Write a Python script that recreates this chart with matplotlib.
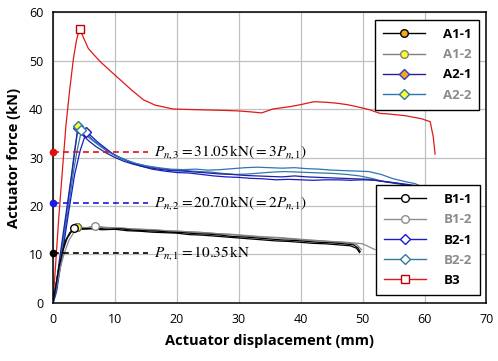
import matplotlib
matplotlib.use('Agg')
import matplotlib.pyplot as plt
from matplotlib.lines import Line2D

plt.rcParams['font.family'] = ['Open Sans', 'DejaVu Sans']
plt.rcParams['mathtext.fontset'] = 'stix'

# --- data ---
x_a11 = [0, 0.5, 1.0, 1.6, 2.2, 2.9, 3.8, 5, 7, 9, 11, 13, 15, 17, 19, 21, 23, 25, 27, 29, 31,
         33, 35, 37, 39, 41, 43, 45, 47, 48.5, 49.2, 49.6]
y_a11 = [0, 3.8, 7.6, 10.8, 13.2, 14.6, 15.6, 15.3, 15.4, 15.2, 15.3, 15.0, 14.9, 14.8, 14.6, 14.5,
         14.3, 14.2, 14.0, 13.7, 13.6, 13.4, 13.2, 13.0, 12.9, 12.7, 12.5, 12.4, 12.2, 12.0, 11.4, 10.6]

x_a12 = [0, 0.5, 1.1, 1.7, 2.4, 3.1, 3.9, 5.5, 7.5, 9.5, 11.5, 13.5, 15.5, 17.5, 19.5, 21.5, 23.5,
         25.5, 27.5, 29.5, 31.5, 33.5, 35.5, 37.5, 39.5, 41.5, 43.5, 45.5, 47.5, 49.0, 49.8]
y_a12 = [0, 3.6, 7.8, 11.2, 13.6, 15.0, 15.7, 15.5, 15.6, 15.4, 15.4, 15.2, 15.1, 14.9, 14.8, 14.7,
         14.6, 14.4, 14.2, 14.0, 13.8, 13.6, 13.5, 13.3, 13.1, 12.9, 12.8, 12.6, 12.4, 12.1, 11.0]

x_b11 = [0, 0.4, 0.9, 1.4, 2.0, 2.7, 3.4, 4.5, 6, 8, 10, 12, 14, 16, 18, 20, 22, 24, 26, 28, 30,
         32, 34, 36, 38, 40, 42, 44, 46, 48, 49.0, 49.5]
y_b11 = [0, 3.2, 7.0, 10.2, 12.8, 14.5, 15.4, 15.2, 15.3, 15.1, 15.2, 14.9, 14.8, 14.6, 14.5, 14.4,
         14.1, 14.0, 13.8, 13.6, 13.4, 13.2, 13.0, 12.8, 12.7, 12.5, 12.3, 12.2, 12.0, 11.8, 11.3, 10.4]

x_b12 = [0, 0.5, 1.1, 1.8, 2.6, 3.5, 4.5, 5.6, 6.8, 8.5, 10.5, 12.5, 14.5, 16.5, 18.5, 20.5, 22.5,
         24.5, 26.5, 28.5, 30.5, 32.5, 34.5, 36.5, 38.5, 40.5, 42.5, 44.5, 46.5, 48.5, 50.0, 51.0, 52.0]
y_b12 = [0, 3.0, 6.8, 10.2, 13.0, 14.8, 15.4, 15.6, 15.9, 15.6, 15.5, 15.3, 15.2, 15.1, 14.9, 14.8,
         14.6, 14.5, 14.3, 14.2, 14.0, 13.8, 13.6, 13.5, 13.3, 13.1, 12.9, 12.7, 12.6, 12.4, 12.2, 11.6, 11.0]

x_a21 = [0, 0.3, 1.0, 2.0, 3.0, 3.5, 4.0, 4.8, 5.8, 7.0, 8.5, 10, 11.5, 13, 15, 17, 19, 21, 23, 25,
         27, 29, 31, 33, 35, 37, 39, 41, 43, 45, 47, 49, 51, 53, 55, 57, 58.5, 59.5, 60.0]
y_a21 = [0, 1.5, 8.5, 17.5, 26.5, 31.5, 36.0, 34.6, 33.4, 32.2, 31.0, 30.0, 29.2, 28.6, 28.0, 27.6, 27.3,
         27.2, 27.0, 26.8, 26.6, 26.5, 26.3, 26.2, 26.1, 26.0, 26.2, 26.0, 25.9, 25.8, 25.7, 25.6,
         25.5, 25.1, 24.8, 24.5, 24.2, 23.7, 23.3]

x_a22 = [0, 0.4, 1.1, 2.1, 3.1, 3.6, 4.1, 4.9, 5.9, 7.1, 8.6, 10, 11.5, 13, 15, 17, 19, 21, 23, 25,
         27, 29, 31, 33, 35, 37, 39, 41, 43, 45, 47, 49, 51, 53, 55, 57, 58.5, 59.5, 60.2]
y_a22 = [0, 1.5, 8.5, 17.5, 27, 32, 36.4, 35.2, 34.0, 32.8, 31.4, 30.4, 29.6, 28.9, 28.3, 27.9,
         27.6, 27.5, 27.6, 27.4, 27.5, 27.7, 27.9, 28.0, 27.9, 27.8, 27.9, 27.7, 27.6, 27.4, 27.3,
         27.2, 27.1, 26.5, 25.6, 25.0, 24.6, 24.0, 23.4]

x_b21 = [0, 0.6, 1.5, 2.5, 3.5, 4.4, 5.4, 6.2, 7.2, 8.4, 9.6, 11, 12.5, 14, 16, 18, 20, 22, 24, 26,
         28, 30, 32, 34, 36, 38, 40, 42, 44, 46, 48, 50, 52, 54, 56, 58, 59.2, 60.0]
y_b21 = [0, 2.5, 10, 18.5, 26.5, 31.5, 35.3, 34.4, 33.2, 32.0, 30.8, 29.8, 29.0, 28.3, 27.6, 27.2,
         26.9, 26.8, 26.5, 26.2, 26.0, 25.9, 25.7, 25.6, 25.4, 25.5, 25.4, 25.3, 25.4, 25.4, 25.3,
         25.4, 25.3, 25.0, 24.6, 24.0, 23.6, 23.1]

x_b22 = [0, 0.5, 1.3, 2.3, 3.3, 3.9, 4.6, 5.5, 6.5, 7.7, 9.0, 10.5, 12, 13.5, 15.5, 17.5, 19.5, 21.5,
         23.5, 25.5, 27.5, 29.5, 31.5, 33.5, 35.5, 37.5, 39.5, 41.5, 43.5, 45.5, 47.5, 49.5, 51.5,
         53.5, 55.5, 57.5, 59.0, 60.0]
y_b22 = [0, 2.5, 9.5, 18, 27, 31.5, 35.6, 34.8, 33.6, 32.4, 31.2, 30.2, 29.4, 28.7, 28.1, 27.7,
         27.4, 27.3, 27.1, 27.0, 26.7, 26.5, 26.6, 26.8, 27.0, 27.1, 27.0, 26.9, 26.8, 26.7, 26.5,
         26.2, 25.7, 25.0, 24.6, 24.3, 23.8, 23.3]

x_b3 = [0, 0.4, 0.9, 1.5, 2.1, 2.7, 3.3, 3.8, 4.3, 5.0, 5.7, 6.6, 7.6, 8.8, 10.0, 11.4, 12.7, 14.6,
        16.5, 19.4, 22, 25, 28, 30, 32, 33.7, 35.5, 38.3, 40, 42.1, 44, 45.8, 47.5, 49, 51, 52.8, 54,
        55.5, 57, 58.2, 59.5, 60.4, 60.9, 61.4, 61.7]
y_b3 = [0, 7.5, 17, 27, 36.7, 44, 50.4, 54.2, 56.6, 54.5, 52.5, 51.2, 49.8, 48.4, 47.0, 45.4, 43.9,
        41.9, 40.8, 40.0, 39.9, 39.8, 39.7, 39.6, 39.4, 39.2, 40.0, 40.5, 40.9, 41.5, 41.4, 41.2,
        40.9, 40.5, 39.9, 39.1, 39.0, 38.8, 38.6, 38.3, 38.0, 37.6, 37.4, 34.3, 30.7]

pn_values = [10.35, 20.70, 31.05]
pn_colors = ['black', '#1a1ae0', '#e01010']
pn_labels = [r'$P_{n,1}=10.35\,\mathrm{kN}$',
             r'$P_{n,2}=20.70\,\mathrm{kN}\left(=2P_{n,1}\right)$',
             r'$P_{n,3}=31.05\,\mathrm{kN}\left(=3P_{n,1}\right)$']

fig = plt.figure(figsize=(4.98, 3.61), dpi=100)
ax = fig.add_axes([0.1064, 0.1607, 0.8705, 0.806])

# series: (x, y, label, line colour, marker, face, edge, text colour)
series_a = [
    (x_a11, y_a11, 'A1-1', 'black', 'o', '#f5a818', 'black', 'black'),
    (x_a12, y_a12, 'A1-2', '#808080', 'o', '#ffff20', '#808080', '#8c8c8c'),
    (x_a21, y_a21, 'A2-1', '#2020a0', 'D', '#f5a818', '#3a3ac0', 'black'),
    (x_a22, y_a22, 'A2-2', '#2e75b6', 'D', '#ffff20', '#2e75b6', '#8c8c8c'),
]
series_b = [
    (x_b11, y_b11, 'B1-1', 'black', 'o', 'white', 'black', 'black'),
    (x_b12, y_b12, 'B1-2', '#8c8c8c', 'o', 'white', '#8c8c8c', '#8c8c8c'),
    (x_b21, y_b21, 'B2-1', '#1a1acc', 'D', 'white', '#1a1acc', 'black'),
    (x_b22, y_b22, 'B2-2', '#31799f', 'D', 'white', '#31799f', '#8c8c8c'),
    (x_b3, y_b3, 'B3', '#e01818', 's', 'white', '#c00000', 'black'),
]
msize = {'o': 5.5, 'D': 5, 's': 6}

# lines first, then peak markers on top
for xs, ys, lab, lc, mk, fc, ec, tc in series_b[::-1] + series_a[::-1]:
    ax.plot(xs, ys, color=lc, lw=0.9, zorder=2)
for xs, ys, lab, lc, mk, fc, ec, tc in series_a + series_b:
    i = ys.index(max(ys))
    ax.plot([xs[i]], [ys[i]], marker=mk, ms=msize[mk], mfc=fc, mec=ec, mew=1.0, ls='none', zorder=4)

# nominal strength lines
for v, c, t in zip(pn_values, pn_colors, pn_labels):
    ax.plot([0, 15.3], [v, v], color=c, ls=(0, (3.5, 2.5)), lw=1.2, zorder=3)
    ax.plot([0], [v], marker='o', ms=4.5, color=c, clip_on=False, zorder=5)
    ax.text(16.3, v, t, fontsize=11, va='center', ha='left', zorder=6)

ax.set_xlim(0, 70)
ax.set_ylim(0, 60)
ax.set_xticks(range(0, 71, 10))
ax.set_yticks(range(0, 61, 10))
ax.grid(True, color='#c0c0c0', lw=0.9)
ax.set_axisbelow(True)
ax.tick_params(length=0, labelsize=9, pad=7)
for s in ax.spines.values():
    s.set_color('black')
    s.set_linewidth(1.1)
ax.set_xlabel('Actuator displacement (mm)', fontsize=10.5, fontweight='bold', labelpad=6)
ax.set_ylabel('Actuator force (kN)', fontsize=10.5, fontweight='bold', labelpad=6)


def make_legend(series, loc, anchor):
    handles = [Line2D([0], [0], color=lc, lw=1.0, marker=mk, ms=msize[mk],
                      mfc=fc, mec=ec, mew=1.0)
               for xs, ys, lab, lc, mk, fc, ec, tc in series]
    leg = ax.legend(handles, [s[2] for s in series], loc=loc, bbox_to_anchor=anchor,
                    borderaxespad=0, fancybox=False, framealpha=1, edgecolor='black',
                    prop={'weight': 'bold', 'size': 9.5}, handlelength=3.2,
                    handletextpad=1.3, labelspacing=0.55, borderpad=0.6)
    leg.get_frame().set_linewidth(1.0)
    for txt, s in zip(leg.get_texts(), series):
        txt.set_color(s[7])
    return leg


leg1 = make_legend(series_a, 'upper right', (0.983, 0.9725))
ax.add_artist(leg1)
make_legend(series_b, 'lower right', (0.985, 0.0275))

fig.savefig('out.png', dpi=100)
